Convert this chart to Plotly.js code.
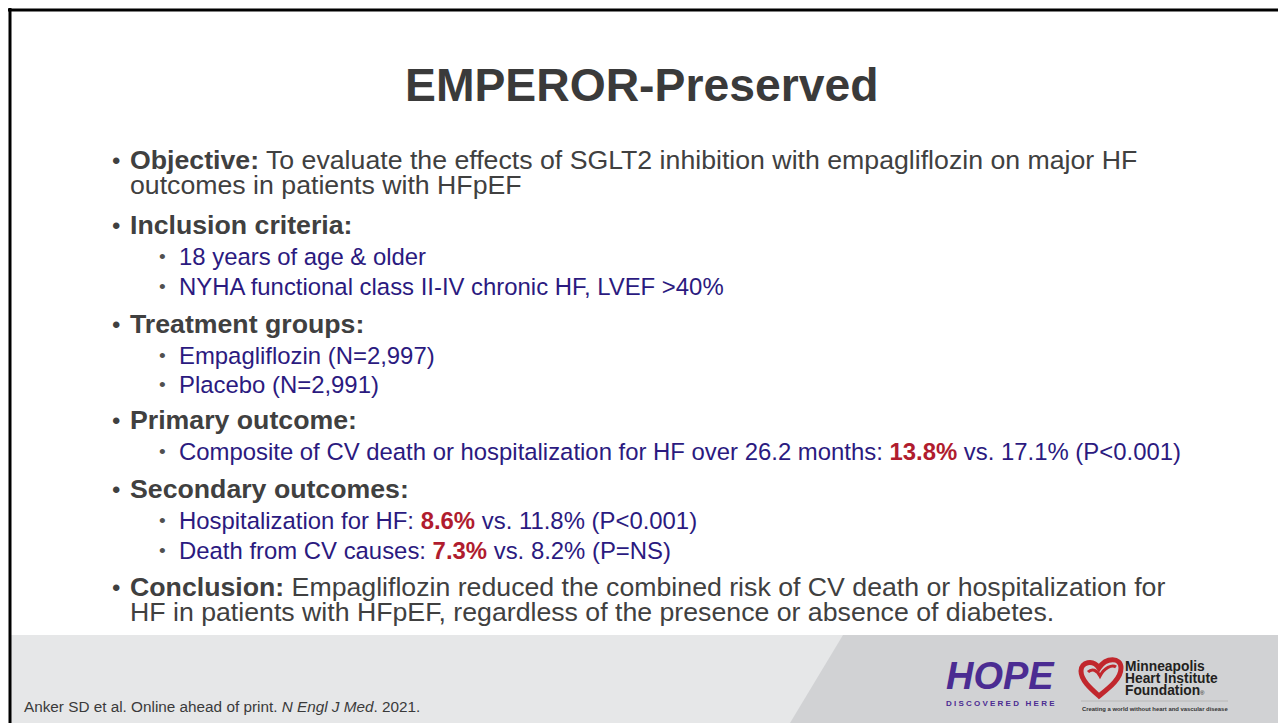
<!DOCTYPE html>
<html>
<head>
<meta charset="utf-8">
<script src="https://cdn.plot.ly/plotly-3.0.1.min.js"></script>
<style>
html,body{margin:0;padding:0;background:#ffffff;}
#chart{width:1278px;height:723px;}
</style>
</head>
<body>
<div id="chart"></div>
<script>
// ---- content ----
const slideTitle = "EMPEROR-Preserved";
const objectiveLines = [
  "To evaluate the effects of SGLT2 inhibition with empagliflozin on major HF",
  "outcomes in patients with HFpEF"
];
const inclusionItems = ["18 years of age &amp; older", "NYHA functional class II-IV chronic HF, LVEF &gt;40%"];
const groupNames = ["Empagliflozin", "Placebo"];
const groupN = ["2,997", "2,991"];
const followUpMonths = 26.2;
const outcomeNames = ["Composite of CV death or hospitalization for HF over " + followUpMonths + " months", "Hospitalization for HF", "Death from CV causes"];
const empaRates = [13.8, 8.6, 7.3];
const placeboRates = [17.1, 11.8, 8.2];
const pValues = ["P&lt;0.001", "P&lt;0.001", "P=NS"];
const conclusionLines = [
  "Empagliflozin reduced the combined risk of CV death or hospitalization for",
  "HF in patients with HFpEF, regardless of the presence or absence of diabetes."
];
const citation = "Anker SD et al. Online ahead of print. <i>N Engl J Med</i>. 2021.";
const orgLines = ["Minneapolis", "Heart Institute", "Foundation"];
const orgTagline = "Creating a world without heart and vascular disease";

// ---- styles ----
const FONT = "Liberation Sans, Arial, sans-serif";
const C_TITLE = "#3a3a3a";
const C_L1 = "#404040";
const C_L2 = "#2b1a7f";
const C_RED = "#b01c2e";
const FS1 = 26.7, FS2 = 23.9;

const ann = [];
function txt(x, y, text, size, color, opts) {
  opts = opts || {};
  ann.push(Object.assign({
    x: x, y: y, xref: "x", yref: "y", text: text, showarrow: false,
    xanchor: "left", yanchor: "middle", borderpad: 0, borderwidth: 0,
    font: {family: FONT, size: size, color: color}
  }, opts));
}
function red(v) { return "<span style='color:" + C_RED + "'><b>" + v.toFixed(1) + "%</b></span>"; }

// title
txt(641, 85, "<b>" + slideTitle + "</b>", 46.3, C_TITLE, {xanchor: "center"});

// level-1 & level-2 bullets
const L1X = 130, L1B = 112, L2X = 179, L2B = 159;
function l1(yBase, html) {
  txt(L1B, yBase - 8, "•", FS1 * 0.9, C_L1);
  txt(L1X, yBase - 8, html, FS1, C_L1);
}
function cont(yBase, html) { txt(L1X, yBase - 8, html, FS1, C_L1); }
function l2(yBase, html) {
  txt(L2B, yBase - 7, "•", FS2 * 0.8, "#505050");
  txt(L2X, yBase - 7, html, FS2, C_L2);
}

l1(168, "<b>Objective:</b> " + objectiveLines[0]);
cont(193, objectiveLines[1]);
l1(233, "<b>Inclusion criteria:</b>");
l2(263, inclusionItems[0]);
l2(293, inclusionItems[1]);
l1(332, "<b>Treatment groups:</b>");
l2(362, groupNames[0] + " (N=" + groupN[0] + ")");
l2(391, groupNames[1] + " (N=" + groupN[1] + ")");
l1(428, "<b>Primary outcome:</b>");
l2(458, outcomeNames[0] + ": " + red(empaRates[0]) + " vs. " + placeboRates[0].toFixed(1) + "% (" + pValues[0] + ")");
l1(497, "<b>Secondary outcomes:</b>");
l2(527, outcomeNames[1] + ": " + red(empaRates[1]) + " vs. " + placeboRates[1].toFixed(1) + "% (" + pValues[1] + ")");
l2(557, outcomeNames[2] + ": " + red(empaRates[2]) + " vs. " + placeboRates[2].toFixed(1) + "% (" + pValues[2] + ")");
l1(595, "<b>Conclusion:</b> " + conclusionLines[0]);
cont(620, conclusionLines[1]);

// footer
txt(24, 706, citation, 15.3, "#3a3a3a");

// logos (text parts)
txt(1000, 676, "<b><i>HOPE</i></b>", 38, "#4b2c92", {xanchor: "center", font: {family: "Liberation Sans Narrow, Liberation Sans, Arial", size: 38, color: "#4b2c92"}});
txt(1000, 703, "<b>D I S C O V E R E D   H E R E</b>", 8, "#4b2c92", {xanchor: "center"});
txt(1125, 666, "<b>" + orgLines[0] + "</b>", 13.8, "#231f20");
txt(1125, 678, "<b>" + orgLines[1] + "</b>", 13.8, "#231f20");
txt(1125, 690, "<b>" + orgLines[2] + "</b><span style='font-size:6px'>®</span>", 13.8, "#231f20");
txt(1155, 709, "<b>" + orgTagline + "</b>", 5.9, "#333333", {xanchor: "center"});

const shapes = [
  // footer band
  {type: "rect", xref: "x", yref: "y", x0: 11, x1: 1278, y0: 635, y1: 723, fillcolor: "#e6e7e8", line: {width: 0}, layer: "below"},
  {type: "path", xref: "x", yref: "y", path: "M 843 635 L 1278 635 L 1278 723 L 790 723 Z", fillcolor: "#d1d2d4", line: {width: 0}, layer: "below"},
  // border
  {type: "line", xref: "x", yref: "y", x0: 8, x1: 1278, y0: 10, y1: 10, line: {color: "#000000", width: 3}},
  {type: "line", xref: "x", yref: "y", x0: 10, x1: 10, y0: 8, y1: 723, line: {color: "#000000", width: 3}},
  // heart logo
  {type: "path", xref: "x", yref: "y",
   path: "M 1099 696 C 1090 688, 1081 680, 1081 671 C 1081 662, 1093 659, 1099 668 C 1106 657, 1121 657, 1121 668 C 1121 679, 1109 688, 1099 696 Z",
   fillcolor: "rgba(0,0,0,0)", line: {color: "#c1272d", width: 5}},
  {type: "path", xref: "x", yref: "y",
   path: "M 1088 672 C 1092 668, 1097 670, 1100 676 C 1104 668, 1112 664, 1116 667",
   fillcolor: "rgba(0,0,0,0)", line: {color: "#c1272d", width: 3}},
  // tagline rule
  {type: "line", xref: "x", yref: "y", x0: 1081, x1: 1228, y0: 701, y1: 701, line: {color: "#b8b8b8", width: 1}}
];

const layout = {
  width: 1278, height: 723,
  margin: {l: 0, r: 0, t: 0, b: 0},
  paper_bgcolor: "#ffffff", plot_bgcolor: "#ffffff",
  xaxis: {range: [0, 1278], visible: false, fixedrange: true},
  yaxis: {range: [723, 0], visible: false, fixedrange: true},
  showlegend: false,
  annotations: ann,
  shapes: shapes
};
Plotly.newPlot("chart", [], layout, {displayModeBar: false, staticPlot: true});
</script>
</body>
</html>
